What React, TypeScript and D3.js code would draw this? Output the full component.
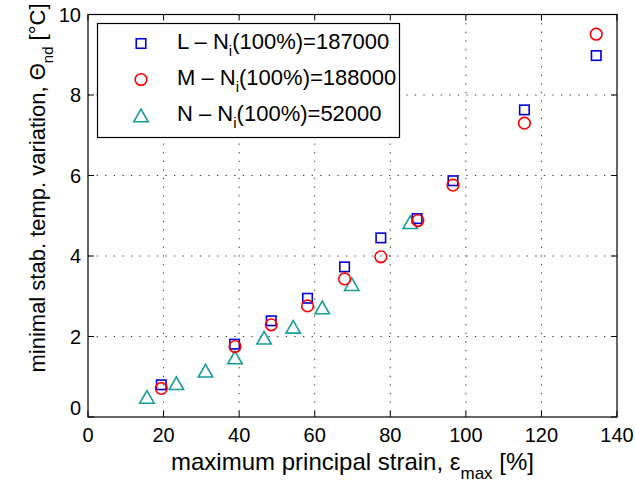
import React from "react";
import * as d3 from "d3";

const xTicks = [0, 20, 40, 60, 80, 100, 120, 140];
const yTicks = [0, 2, 4, 6, 8, 10];

const lX = [19.4, 38.8, 48.5, 58.1, 67.9, 77.5, 87.1, 96.6, 115.5, 134.5];
const lY = [0.8, 1.81, 2.39, 2.95, 3.73, 4.45, 4.93, 5.87, 7.63, 8.98];
const mX = [19.4, 38.9, 48.5, 58.1, 67.9, 77.5, 87.3, 96.6, 115.5, 134.5];
const mY = [0.71, 1.75, 2.29, 2.76, 3.43, 3.98, 4.88, 5.76, 7.3, 9.51];
const nX = [15.6, 23.4, 31.1, 38.9, 46.6, 54.3, 62.0, 69.8, 85.3];
const nY = [0.5, 0.84, 1.15, 1.48, 1.97, 2.24, 2.72, 3.3, 4.84];

const seriesNames = ["L", "M", "N"];
const seriesNi = ["187000", "188000", "52000"];

const W = 635;
const H = 485;
const left = 88;
const right = 617;
const top = 14.5;
const bottom = 417;

const BLUE = "#0000dd";
const RED = "#ff0000";
const TEAL = "#179c9c";
const FONT = "'Liberation Sans', Arial, sans-serif";

const x = d3.scaleLinear().domain([0, 140]).range([left, right]);
const y = d3.scaleLinear().domain([0, 10]).range([bottom, top]);

function Square({ cx, cy }: { cx: number; cy: number }) {
  const s = 9.5;
  return <rect x={cx - s / 2} y={cy - s / 2} width={s} height={s} fill="none" stroke={BLUE} strokeWidth={1.6} />;
}
function Circle({ cx, cy }: { cx: number; cy: number }) {
  return <circle cx={cx} cy={cy} r={5.8} fill="none" stroke={RED} strokeWidth={1.6} />;
}
function Tri({ cx, cy }: { cx: number; cy: number }) {
  const w = 7.2;
  const h = 6.3;
  const d = `M${cx},${cy - h}L${cx + w},${cy + h}L${cx - w},${cy + h}Z`;
  return <path d={d} fill="none" stroke={TEAL} strokeWidth={1.6} strokeLinejoin="miter" />;
}

export default function App() {
  const tickLen = 6;
  return (
    <svg width={W} height={H} style={{ position: "absolute", left: 0, top: 0, background: "#fff" }} fontFamily={FONT}>
      <rect x={0} y={0} width={W} height={H} fill="#fff" />
      {/* grid */}
      {xTicks.slice(1, -1).map((t) => (
        <line key={"gx" + t} x1={x(t)} x2={x(t)} y1={top} y2={bottom} stroke="#333" strokeWidth={1} strokeDasharray="1.3,7.3" />
      ))}
      {yTicks.slice(1, -1).map((t) => (
        <line key={"gy" + t} x1={left} x2={right} y1={y(t)} y2={y(t)} stroke="#333" strokeWidth={1} strokeDasharray="1.3,7.3" />
      ))}
      {/* ticks */}
      {xTicks.map((t) => (
        <g key={"tx" + t}>
          <line x1={x(t)} x2={x(t)} y1={bottom} y2={bottom - tickLen} stroke="#000" />
          <line x1={x(t)} x2={x(t)} y1={top} y2={top + tickLen} stroke="#000" />
          <text x={x(t)} y={441.5} fontSize={20} textAnchor="middle" fill="#000">{t}</text>
        </g>
      ))}
      {yTicks.map((t) => (
        <g key={"ty" + t}>
          <line x1={left} x2={left + tickLen} y1={y(t)} y2={y(t)} stroke="#000" />
          <line x1={right} x2={right - tickLen} y1={y(t)} y2={y(t)} stroke="#000" />
          <text x={81} y={y(t) + 7 - (t === 0 ? 9 : 0)} fontSize={20} textAnchor="end" fill="#000">{t}</text>
        </g>
      ))}
      <rect x={left} y={top} width={right - left} height={bottom - top} fill="none" stroke="#000" strokeWidth={1.2} />

      {/* data */}
      {nX.map((v, i) => <Tri key={"n" + i} cx={x(v)} cy={y(nY[i])} />)}
      {lX.map((v, i) => <Square key={"l" + i} cx={x(v)} cy={y(lY[i])} />)}
      {mX.map((v, i) => <Circle key={"m" + i} cx={x(v)} cy={y(mY[i])} />)}

      {/* legend */}
      <rect x={97.5} y={23.5} width={302} height={114} fill="#fff" stroke="#000" strokeWidth={1.2} />
      {seriesNames.map((nm, i) => {
        const by = 48.5 + i * 36;
        const my = by - 5;
        return (
          <g key={"lg" + nm}>
            {i === 0 && <Square cx={141} cy={my} />}
            {i === 1 && <Circle cx={141} cy={my} />}
            {i === 2 && <Tri cx={141} cy={my} />}
            <text x={177} y={by} fontSize={22} fill="#000">
              {nm} – N
              <tspan fontSize={15} dy={7}>i</tspan>
              <tspan dy={-7}>(100%)={seriesNi[i]}</tspan>
            </text>
          </g>
        );
      })}

      {/* axis labels */}
      <text x={(left + right) / 2} y={469.5} fontSize={24} textAnchor="middle" fill="#000">
        maximum principal strain, ε
        <tspan fontSize={17} dy={9}>max</tspan>
        <tspan dy={-9}> [%]</tspan>
      </text>
      <text transform={`translate(45,188) rotate(-90)`} fontSize={22} textAnchor="middle" fill="#000">
        minimal stab. temp. variation, Θ
        <tspan fontSize={15} dy={8}>nd</tspan>
        <tspan dy={-8}> [°C]</tspan>
      </text>
    </svg>
  );
}
